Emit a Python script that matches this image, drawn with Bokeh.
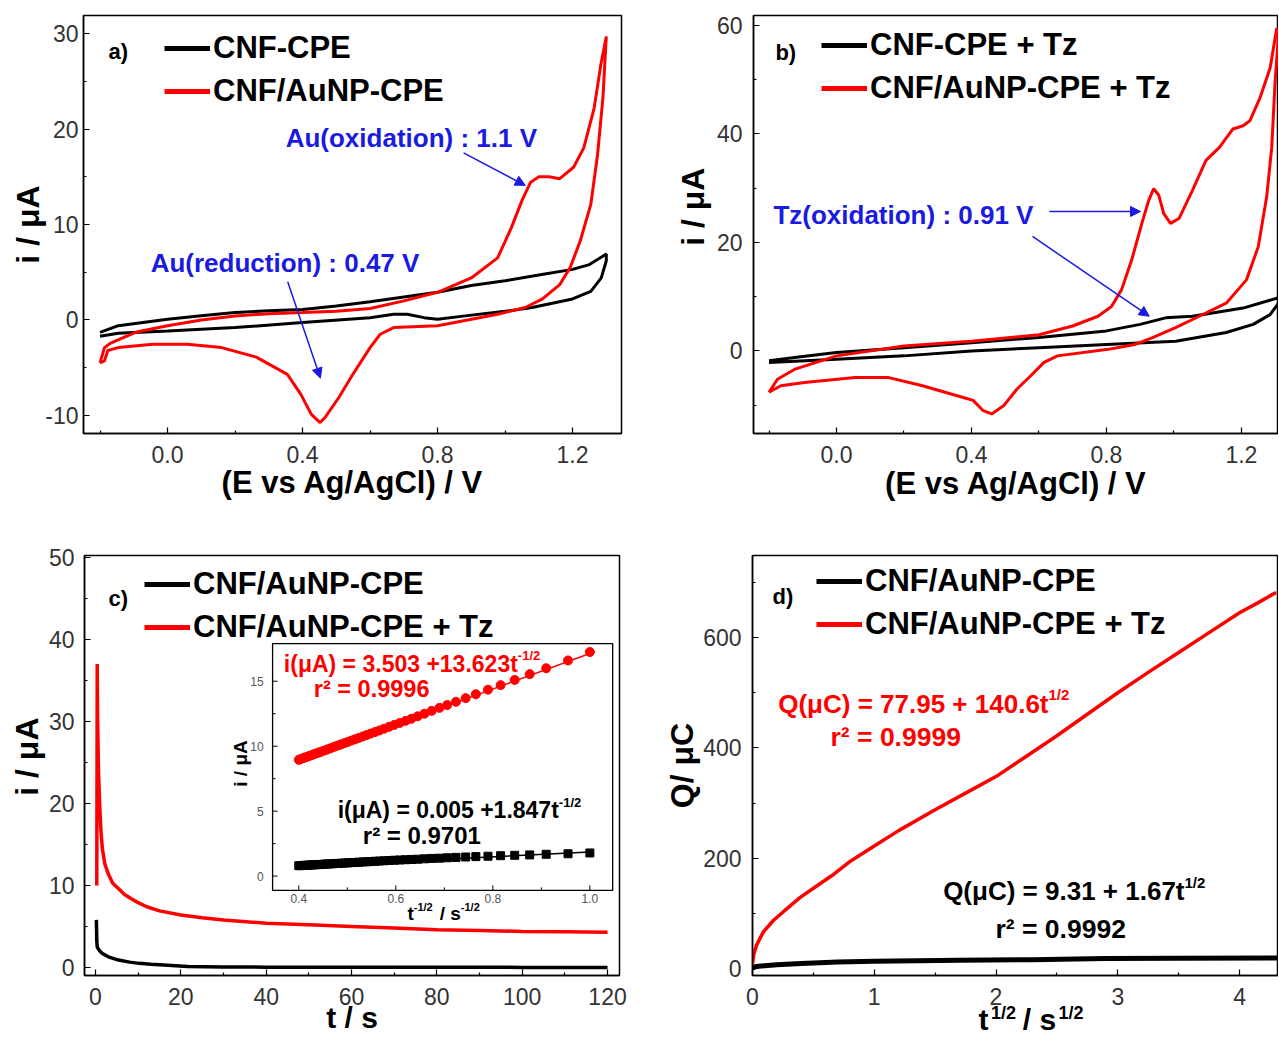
import math
from bokeh.plotting import figure
from bokeh.models import (Range1d, FixedTicker, Label, Arrow, NormalHead, Legend, LegendItem,
                          LinearAxis)
from bokeh.layouts import column, row
from bokeh.embed import file_html
from bokeh.resources import INLINE
from bokeh.core.properties import value

# ====================== DATA ======================
# ---- panel a : CV without thiazole ----
a_black_E = [-0.2, -0.146, 0.0, 0.1, 0.2, 0.3, 0.4, 0.5, 0.6, 0.7, 0.8, 0.9, 1.0, 1.1, 1.2, 1.25, 1.3,
             1.3, 1.285, 1.254, 1.2, 1.08, 1.0, 0.876, 0.8, 0.76, 0.71, 0.67, 0.6, 0.4, 0.2, 0.0,
             -0.146, -0.2]
a_black_i = [-1.3, -0.6, 0.07, 0.45, 0.77, 0.95, 1.1, 1.45, 1.9, 2.4, 2.9, 3.6, 4.1, 4.7, 5.3, 5.8, 6.9,
             6.2, 4.4, 3.0, 2.2, 1.3, 0.9, 0.4, 0.07, 0.24, 0.6, 0.6, 0.24, -0.28, -0.8, -1.15,
             -1.4, -1.7]
a_red_E = [-0.2, -0.187, -0.167, -0.095, 0.0, 0.1, 0.2, 0.3, 0.4, 0.5, 0.6, 0.7, 0.8, 0.9, 0.978,
           1.019, 1.05, 1.075, 1.1, 1.13, 1.162, 1.203, 1.233, 1.264, 1.284, 1.3,
           1.29, 1.274, 1.254, 1.223, 1.193, 1.162, 1.111, 1.06, 0.978, 0.8, 0.67, 0.63, 0.6, 0.549,
           0.508, 0.467, 0.452, 0.426, 0.395, 0.355, 0.263, 0.16, 0.058, -0.044, -0.146, -0.177,
           -0.187, -0.2]
a_red_i = [-4.5, -2.9, -2.4, -1.3, -0.6, 0.0, 0.42, 0.65, 0.77, 0.9, 1.2, 2.0, 2.9, 4.4, 6.5,
           9.7, 12.5, 14.4, 15.0, 15.0, 14.8, 16.0, 18.0, 22.2, 26.8, 29.7,
           23.3, 17.3, 12.1, 8.3, 5.5, 3.7, 2.2, 1.3, 0.6, -0.6, -0.8, -1.5, -2.9, -5.7,
           -8.1, -10.2, -10.75, -9.9, -7.8, -5.7, -3.9, -2.9, -2.55, -2.55, -2.9, -3.2,
           -4.3, -4.5]
a_legend = ["CNF-CPE", "CNF/AuNP-CPE"]
a_xticks = [0.0, 0.4, 0.8, 1.2]
a_xtick_labels = ["0.0", "0.4", "0.8", "1.2"]
a_xminor = [-0.2, 0.2, 0.6, 1.0]
a_yticks = [-10, 0, 10, 20, 30]
a_ytick_labels = ["-10", "0", "10", "20", "30"]
a_yminor = [-5, 5, 15, 25]

# ---- panel b : CV with thiazole ----
b_black_E = [-0.2, -0.1, 0.0, 0.2, 0.4, 0.6, 0.8, 0.9, 0.975, 1.055, 1.205, 1.31,
             1.31, 1.285, 1.235, 1.155, 1.005, 0.8, 0.6, 0.4, 0.2, 0.0, -0.2]
b_black_i = [-1.8, -1.0, -0.3, 0.6, 1.5, 2.5, 3.7, 4.9, 6.1, 6.4, 7.9, 9.8,
             8.8, 6.7, 4.9, 3.4, 1.8, 1.2, 0.6, 0.0, -0.9, -1.5, -2.1]
b_red_E = [-0.2, -0.175, -0.125, 0.0, 0.2, 0.4, 0.6, 0.7, 0.775, 0.815, 0.845, 0.875, 0.905,
           0.925, 0.94, 0.955, 0.97, 0.99, 1.015, 1.055, 1.095, 1.135, 1.175, 1.205, 1.225,
           1.255, 1.285, 1.305,
           1.31, 1.3, 1.29, 1.275, 1.25, 1.215, 1.155, 1.075, 1.005, 0.935, 0.885, 0.805, 0.655,
           0.615, 0.575, 0.535, 0.495, 0.46, 0.435, 0.405, 0.355, 0.255, 0.155, 0.055, -0.095,
           -0.165, -0.2]
b_red_i = [-7.6, -5.2, -3.4, -0.9, 0.9, 1.8, 3.0, 4.6, 6.4, 8.2, 11.3, 16.8, 23.5,
           27.7, 29.9, 28.7, 25.3, 23.5, 24.4, 29.6, 35.1, 37.5, 40.9, 41.5, 42.4,
           46.6, 52.1, 59.5,
           58.2, 49.7, 37.5, 28.4, 19.2, 13.1, 8.8, 6.4, 4.3, 2.4, 1.2, 0.3, -0.9,
           -2.1, -4.6, -7.0, -10.1, -11.6, -11.0, -9.1, -8.2, -6.4, -4.9, -4.9, -5.8,
           -6.4, -7.6]
b_legend = ["CNF-CPE + Tz", "CNF/AuNP-CPE + Tz"]
b_xticks = [0.0, 0.4, 0.8, 1.2]
b_xtick_labels = ["0.0", "0.4", "0.8", "1.2"]
b_xminor = [-0.2, 0.2, 0.6, 1.0]
b_yticks = [0, 20, 40, 60]
b_ytick_labels = ["0", "20", "40", "60"]
b_yminor = [-10, 10, 30, 50]

# ---- panel c : chronoamperometry ----
c_black_t = [0.2, 0.3, 0.4, 1.0, 1.6, 3.0, 5.4, 8.0, 10.2, 13.0, 16.0, 21.6, 30.0, 40.0, 60.0,
             80.0, 100.0, 120.0]
c_black_i = [5.8, 3.2, 2.5, 2.0, 1.7, 1.3, 0.9, 0.65, 0.5, 0.38, 0.3, 0.12, 0.06, 0.04, 0.03,
             0.02, 0.01, 0.0]
c_red_t = [0.3, 0.4, 0.5, 0.7, 1.0, 1.3, 1.6, 2.2, 3.0, 4.0, 5.4, 6.8, 8.3, 10.0, 12.0, 15.0,
           20.0, 25.0, 30.0, 40.0, 50.0, 60.0, 70.0, 80.0, 90.0, 100.0, 110.0, 120.0]
c_red_i = [10.0, 37.0, 30.0, 24.0, 19.5, 16.5, 14.5, 12.6, 11.4, 10.3, 9.6, 8.9, 8.4, 7.9, 7.4,
           6.9, 6.4, 6.05, 5.8, 5.4, 5.2, 5.0, 4.8, 4.6, 4.5, 4.4, 4.35, 4.3]
c_legend = ["CNF/AuNP-CPE", "CNF/AuNP-CPE + Tz"]
c_xticks = [0, 20, 40, 60, 80, 100, 120]
c_xtick_labels = ["0", "20", "40", "60", "80", "100", "120"]
c_xminor = [10, 30, 50, 70, 90, 110]
c_yticks = [0, 10, 20, 30, 40, 50]
c_ytick_labels = ["0", "10", "20", "30", "40", "50"]
c_yminor = [5, 15, 25, 35, 45]

# ---- inset of c : Cottrell plot ----
ins_x = [0.400, 0.404, 0.409, 0.413, 0.418, 0.422, 0.427, 0.432, 0.437, 0.442,
         0.447, 0.453, 0.458, 0.464, 0.470, 0.476, 0.482, 0.488, 0.495, 0.502,
         0.509, 0.516, 0.524, 0.532, 0.540, 0.548, 0.557, 0.566, 0.576, 0.586,
         0.597, 0.608, 0.620, 0.632, 0.645, 0.659, 0.674, 0.690, 0.706, 0.724,
         0.744, 0.765, 0.790, 0.816, 0.845, 0.876, 0.910, 0.955, 1.000]
ins_red = [8.95, 9.01, 9.08, 9.13, 9.20, 9.25, 9.32, 9.39, 9.46, 9.52,
           9.59, 9.67, 9.74, 9.82, 9.91, 9.99, 10.07, 10.15, 10.25, 10.34,
           10.44, 10.53, 10.64, 10.75, 10.86, 10.97, 11.09, 11.21, 11.35, 11.49,
           11.64, 11.79, 11.95, 12.11, 12.30, 12.50, 12.72, 12.95, 13.17, 13.42,
           13.70, 14.00, 14.35, 14.70, 15.10, 15.55, 16.00, 16.60, 17.25]
ins_black = [0.80, 0.81, 0.82, 0.83, 0.84, 0.85, 0.86, 0.87, 0.88, 0.89,
             0.90, 0.92, 0.93, 0.94, 0.95, 0.97, 0.98, 0.99, 1.01, 1.02,
             1.04, 1.05, 1.07, 1.09, 1.10, 1.12, 1.14, 1.16, 1.18, 1.20,
             1.22, 1.24, 1.26, 1.28, 1.30, 1.33, 1.36, 1.38, 1.41, 1.44,
             1.47, 1.50, 1.53, 1.57, 1.60, 1.63, 1.68, 1.72, 1.78]
ins_fit_x = [0.4, 1.0]
ins_fit_red = [8.95, 17.13]
ins_fit_black = [0.74, 1.85]
ins_xticks = [0.4, 0.6, 0.8, 1.0]
ins_xtick_labels = ["0.4", "0.6", "0.8", "1.0"]
ins_xminor = [0.5, 0.7, 0.9]
ins_yticks = [0, 5, 10, 15]
ins_ytick_labels = ["0", "5", "10", "15"]
ins_yminor = [2.5, 7.5, 12.5]

# ---- panel d : Anson plot ----
d_red_x = [0.0, 0.01, 0.033, 0.088, 0.171, 0.254, 0.392, 0.53, 0.668, 0.807, 1.0, 1.2, 1.5,
           1.75, 2.0, 2.25, 2.5, 2.75, 3.0, 3.25, 3.5, 3.75, 4.0, 4.15, 4.3]
d_red_Q = [8, 25, 42, 66, 87, 103, 129, 150, 171, 195, 222, 250, 288,
           318, 348, 385, 422, 461, 500, 537, 573, 609, 645, 663, 682]
d_black_x = [0.0, 0.02, 0.05, 0.1, 0.2, 0.4, 0.7, 1.0, 1.7, 2.3, 2.9, 3.5, 4.32]
d_black_Q = [0, 3, 4, 5, 7, 9, 12, 13, 15, 16, 18, 18.5, 19]
d_legend = ["CNF/AuNP-CPE", "CNF/AuNP-CPE + Tz"]
d_xticks = [0, 1, 2, 3, 4]
d_xtick_labels = ["0", "1", "2", "3", "4"]
d_xminor = [0.5, 1.5, 2.5, 3.5]
d_yticks = [0, 200, 400, 600]
d_ytick_labels = ["0", "200", "400", "600"]
d_yminor = [100, 300, 500, 700]
d_xlabel_parts = ["t", "/ s"]
d_xlabel_sups = ["1/2", "1/2"]

# ====================== STYLE ======================
FONT = "Liberation Sans"
RED = "#ff0000"
BLUE = "#1a1ae0"
TICK_COLOR = "#333333"
NBSP = "\u00a0"


def make_fig(width, height, left, right, top, bottom, xr, yr):
    p = figure(width=width, height=height, x_range=Range1d(*xr), y_range=Range1d(*yr),
               output_backend="svg", toolbar_location=None,
               min_border_left=left, min_border_right=right,
               min_border_top=top, min_border_bottom=bottom)
    p.xgrid.visible = False
    p.ygrid.visible = False
    p.outline_line_color = "black"
    p.outline_line_width = 1.5
    p.outline_line_alpha = 1.0
    p.background_fill_color = "white"
    p.border_fill_color = "white"
    return p


def style_axis(ax, ticks, labels, minor, standoff, label=None, label_standoff=0, label_size="31px"):
    ax.ticker = FixedTicker(ticks=ticks, minor_ticks=minor)
    ax.major_label_overrides = {t: l for t, l in zip(ticks, labels)}
    ax.axis_line_width = 1.5
    ax.axis_line_color = "black"
    ax.major_tick_in = 6
    ax.major_tick_out = 0
    ax.minor_tick_in = 3
    ax.minor_tick_out = 0
    ax.major_tick_line_width = 1.2
    ax.minor_tick_line_width = 1.2
    ax.major_label_text_font = FONT
    ax.major_label_text_font_size = "23px"
    ax.major_label_text_color = TICK_COLOR
    ax.major_label_standoff = standoff
    if label is not None:
        ax.axis_label = label
        ax.axis_label_standoff = label_standoff
        ax.axis_label_text_font = FONT
        ax.axis_label_text_font_style = "bold"
        ax.axis_label_text_color = "black"
        ax.axis_label_text_font_size = label_size


def text_axis(p, positions, labels, size, standoff):
    ax = LinearAxis(ticker=FixedTicker(ticks=positions, minor_ticks=[]),
                    major_label_overrides={t: l for t, l in zip(positions, labels)},
                    axis_line_color=None, major_tick_in=0, major_tick_out=0,
                    minor_tick_in=0, minor_tick_out=0,
                    major_label_text_font=FONT, major_label_text_font_size=size,
                    major_label_text_font_style="bold", major_label_text_color="black",
                    major_label_standoff=standoff)
    p.add_layout(ax, "below")


def add_legend(p, labels, vx, vy):
    nan = float("nan")
    rb = p.line(x=[nan], y=[nan], line_color="black", line_width=5)
    rr = p.line(x=[nan], y=[nan], line_color=RED, line_width=5)
    leg = Legend(items=[LegendItem(label=labels[0], renderers=[rb]),
                        LegendItem(label=labels[1], renderers=[rr])],
                 location=(vx, vy), orientation="vertical",
                 border_line_color=None, background_fill_alpha=0.0,
                 label_text_font=FONT, label_text_font_size="31px",
                 label_text_font_style="bold", label_text_color="black",
                 glyph_width=46, glyph_height=20, label_standoff=3,
                 spacing=7, padding=0, margin=0, label_height=20)
    p.add_layout(leg)


def add_text(p, x, y, text, size, color="black", align="left"):
    p.add_layout(Label(x=x, y=y, text=text, text_font=FONT, text_font_size=size,
                       text_font_style="bold", text_color=color,
                       text_align=align, text_baseline="middle"))


def add_arrow(p, xs, ys, xe, ye):
    p.add_layout(Arrow(x_start=xs, y_start=ys, x_end=xe, y_end=ye,
                       line_color=BLUE, line_width=1.5,
                       end=NormalHead(size=10, fill_color=BLUE, line_color=BLUE)))


# ====================== PANEL A ======================
A_XR = (-0.249, 1.345)
A_YR = (-11.9, 31.9)
pa = make_fig(640, 530, 83, 19, 15, 97, A_XR, A_YR)
style_axis(pa.xaxis[0], a_xticks, a_xtick_labels, a_xminor, 12, "(E vs Ag/AgCl) / V", -1)
style_axis(pa.yaxis[0], a_yticks, a_ytick_labels, a_yminor, 5, "i / μA", -4, "32px")
pa.line(a_black_E, a_black_i, line_color="black", line_width=3)
pa.line(a_red_E, a_red_i, line_color=RED, line_width=3)
add_legend(pa, a_legend, 81, 324)
add_text(pa, -0.175, 28.1, "a)", "22px")
add_text(pa, 0.35, 19.1, "Au(oxidation) : 1.1 V", "26px", color=BLUE)
add_text(pa, -0.05, 5.97, "Au(reduction) : 0.47 V", "26px", color=BLUE)
add_arrow(pa, 0.877, 17.5, 1.06, 14.1)
add_arrow(pa, 0.356, 4.0, 0.453, -6.1)

# ====================== PANEL B ======================
B_XR = (-0.246, 1.310)
B_YR = (-15.2, 61.8)
pb = make_fig(638, 530, 113, 0, 15, 95, B_XR, B_YR)
style_axis(pb.xaxis[0], b_xticks, b_xtick_labels, b_xminor, 12, "(E vs Ag/AgCl) / V", 0)
style_axis(pb.yaxis[0], b_yticks, b_ytick_labels, b_yminor, 11, NBSP * 4 + "i / μA", 3, "32px")
pb.line(b_black_E, b_black_i, line_color="black", line_width=3)
pb.line(b_red_E, b_red_i, line_color=RED, line_width=3)
add_legend(pb, b_legend, 68, 327)
add_text(pb, -0.181, 54.9, "b)", "22px")
add_text(pb, -0.187, 25.1, "Tz(oxidation) : 0.91 V", "26px", color=BLUE)
add_arrow(pb, 0.631, 25.7, 0.901, 25.7)
add_arrow(pb, 0.581, 21.1, 0.927, 6.4)

# ====================== PANEL C ======================
C_XR = (-2.58, 122.8)
C_YR = (-0.98, 50.24)
pc = make_fig(640, 508, 84, 21, 25, 63, C_XR, C_YR)
style_axis(pc.xaxis[0], c_xticks, c_xtick_labels, c_xminor, 12, "t / s", -7, "30px")
style_axis(pc.yaxis[0], c_yticks, c_ytick_labels, c_yminor, 10, NBSP * 2 + "i / μA", 1, "32px")
pc.line(c_black_t, c_black_i, line_color="black", line_width=3.5)
pc.line(c_red_t, c_red_i, line_color=RED, line_width=3.5)
add_legend(pc, c_legend, 60, 330)
add_text(pc, 3.05, 45.0, "c)", "22px")

# inset placed inside panel c through extra ranges
IN_X = (0.346, 1.047)
IN_Y = (-1.1, 17.9)
BOX_X = (41.5, 121.2)
BOX_Y = (9.4, 39.5)
sx = (IN_X[1] - IN_X[0]) / (BOX_X[1] - BOX_X[0])
sy = (IN_Y[1] - IN_Y[0]) / (BOX_Y[1] - BOX_Y[0])
pc.extra_x_ranges = {"ix": Range1d(start=IN_X[0] - (BOX_X[0] - C_XR[0]) * sx,
                                   end=IN_X[1] + (C_XR[1] - BOX_X[1]) * sx)}
pc.extra_y_ranges = {"iy": Range1d(start=IN_Y[0] - (BOX_Y[0] - C_YR[0]) * sy,
                                   end=IN_Y[1] + (C_YR[1] - BOX_Y[1]) * sy)}
IR = dict(x_range_name="ix", y_range_name="iy")
pc.quad(left=[IN_X[0]], right=[IN_X[1]], bottom=[IN_Y[0]], top=[IN_Y[1]],
        fill_color="white", line_color="black", line_width=1.3, **IR)
pc.ray(x=ins_xticks, y=[IN_Y[0]] * len(ins_xticks), length=5, angle=math.pi / 2,
       length_units="screen", line_color="black", line_width=1, **IR)
pc.ray(x=ins_xminor, y=[IN_Y[0]] * len(ins_xminor), length=3, angle=math.pi / 2,
       length_units="screen", line_color="black", line_width=1, **IR)
pc.ray(x=[IN_X[0]] * len(ins_yticks), y=ins_yticks, length=5, angle=0,
       length_units="screen", line_color="black", line_width=1, **IR)
pc.ray(x=[IN_X[0]] * len(ins_yminor), y=ins_yminor, length=3, angle=0,
       length_units="screen", line_color="black", line_width=1, **IR)
pc.text(x=ins_xticks, y=[IN_Y[0]] * len(ins_xticks), text=ins_xtick_labels, y_offset=4,
        text_font=value(FONT), text_font_size=value("12px"), text_color="#555555",
        text_align=value("center"), text_baseline=value("top"), **IR)
pc.text(x=[IN_X[0]] * len(ins_yticks), y=ins_yticks, text=ins_ytick_labels, x_offset=-9,
        text_font=value(FONT), text_font_size=value("12px"), text_color="#555555",
        text_align=value("right"), text_baseline=value("middle"), **IR)
pc.line(ins_fit_x, ins_fit_red, line_color=RED, line_width=1.5, **IR)
pc.line(ins_fit_x, ins_fit_black, line_color="black", line_width=1.5, **IR)
pc.scatter(ins_x, ins_red, marker="circle", size=9, color=RED, **IR)
pc.scatter(ins_x, ins_black, marker="square", size=8, color="black", **IR)


def inset_text(x, y, text, size, color="black", align="left", angle=0.0, x_offset=0):
    pc.text(x=[x], y=[y], text=[text], angle=angle, x_offset=x_offset,
            text_font=value(FONT), text_font_size=value(size), text_font_style=value("bold"),
            text_color=color, text_align=value(align), text_baseline=value("middle"), **IR)


inset_text(0.8515, 16.36, "i(μA) = 3.503 +13.623t", "23px", color=RED, align="right")
inset_text(0.8515, 16.95, "-1/2", "13px", color=RED)
inset_text(0.431, 14.44, "r² = 0.9996", "23.5px", color=RED)
inset_text(0.936, 5.05, "i(μA) = 0.005 +1.847t", "23px", align="right")
inset_text(0.936, 5.65, "-1/2", "13px")
inset_text(0.532, 3.13, "r² = 0.9701", "24px")
inset_text(IN_X[0], 8.67, "i / μA", "19px", align="center", angle=math.pi / 2, x_offset=-32)
inset_text(0.637, -2.87, "t", "19px", align="right")
inset_text(0.637, -2.4, "-1/2", "11px")
inset_text(0.734, -2.87, "/ s", "19px", align="right")
inset_text(0.734, -2.4, "-1/2", "11px")

# ====================== PANEL D ======================
D_XR = (0.0, 4.32)
D_YR = (-12.7, 748.9)
pd_ = make_fig(638, 508, 112, 0, 25, 63, D_XR, D_YR)
style_axis(pd_.xaxis[0], d_xticks, d_xtick_labels, d_xminor, 12)
style_axis(pd_.yaxis[0], d_yticks, d_ytick_labels, d_yminor, 11, "Q/ μC", 0, "32px")
# x-axis title with superscripts, made of two text-only axes stacked under the main axis
text_axis(pd_, [2.062, 2.616], d_xlabel_sups, "18px", -5)
text_axis(pd_, [1.897, 2.357], d_xlabel_parts, "30px", -23)
pd_.line(d_black_x, d_black_Q, line_color="black", line_width=5)
pd_.line(d_red_x, d_red_Q, line_color=RED, line_width=3.5)
add_legend(pd_, d_legend, 64, 333)
add_text(pd_, 0.164, 674.5, "d)", "22px")
add_text(pd_, 2.431, 480.5, "Q(μC) = 77.95 + 140.6t", "26px", color=RED, align="right")
add_text(pd_, 2.431, 497.0, "1/2", "15px", color=RED)
add_text(pd_, 0.641, 418.9, "r² = 0.9999", "26.5px", color=RED)
add_text(pd_, 3.548, 141.4, "Q(μC) = 9.31 + 1.67t", "26px", align="right")
add_text(pd_, 3.548, 156.0, "1/2", "15px")
add_text(pd_, 1.996, 72.5, "r² = 0.9992", "26.5px")

layout = column(row(pa, pb), row(pc, pd_))
open("out.html", "w").write(file_html(layout, INLINE))
